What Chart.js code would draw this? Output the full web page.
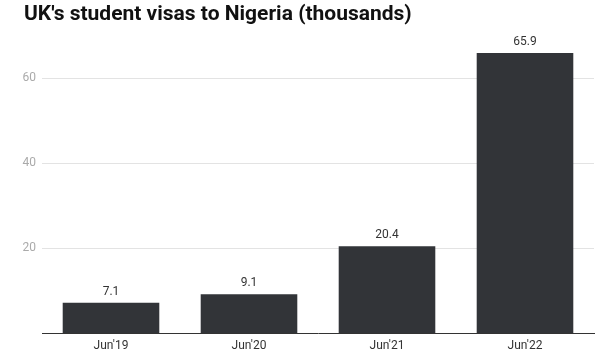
<!DOCTYPE html>
<html>
<head>
<meta charset="utf-8">
<script src="https://cdn.jsdelivr.net/npm/chart.js@4"></script>
<style>
  html, body { margin: 0; padding: 0; background: #fff; }
  #wrap { width: 609px; height: 358px; position: relative; }
</style>
</head>
<body>
<div id="wrap"><canvas id="c"></canvas></div>
<script>
const categories = ["Jun'19", "Jun'20", "Jun'21", "Jun'22"];
const visas = [7.1, 9.1, 20.4, 65.9];
const yTicks = [20, 40, 60];
const titleText = "UK's student visas to Nigeria (thousands)";

const valueLabels = {
  id: 'valueLabels',
  afterDatasetsDraw(chart) {
    const ctx = chart.ctx;
    const meta = chart.getDatasetMeta(0);
    ctx.save();
    ctx.font = '12px Roboto';
    ctx.fillStyle = '#333333';
    ctx.textAlign = 'center';
    ctx.textBaseline = 'middle';
    meta.data.forEach((bar, i) => {
      ctx.fillText(String(visas[i]), bar.x, bar.y - 11);
    });
    ctx.restore();
  }
};

const chartTitle = {
  id: 'chartTitle',
  afterDraw(chart) {
    const ctx = chart.ctx;
    ctx.save();
    ctx.font = 'bold 21px Roboto';
    ctx.fillStyle = '#111111';
    ctx.textAlign = 'left';
    ctx.textBaseline = 'middle';
    ctx.fillText(titleText, 24, 14.5);
    ctx.restore();
  }
};

new Chart(document.getElementById('c'), {
  type: 'bar',
  data: {
    labels: categories,
    datasets: [{
      data: visas,
      backgroundColor: '#323438',
      barPercentage: 0.7,
      categoryPercentage: 1.0
    }]
  },
  options: {
    responsive: true,
    maintainAspectRatio: false,
    animation: false,
    layout: { padding: { left: 0, right: 15, top: 35.5, bottom: 0 } },
    plugins: {
      legend: { display: false },
      tooltip: { enabled: false },
      title: { display: false }
    },
    scales: {
      x: {
        grid: { display: false, drawTicks: false },
        border: { display: true, color: '#333333', width: 1 },
        ticks: { color: '#333333', font: { family: 'Roboto', size: 12 }, padding: 6 },
        afterFit: s => { s.height = 25; }
      },
      y: {
        min: 0,
        max: 70,
        afterBuildTicks: s => { s.ticks = yTicks.map(v => ({ value: v })); },
        grid: { color: '#e3e3e3', drawTicks: false },
        border: { display: false },
        ticks: { color: '#aaaaaa', font: { family: 'Roboto', size: 12 }, padding: 6 },
        afterFit: s => { s.width = 42; }
      }
    }
  },
  plugins: [valueLabels, chartTitle]
});
</script>
</body>
</html>
